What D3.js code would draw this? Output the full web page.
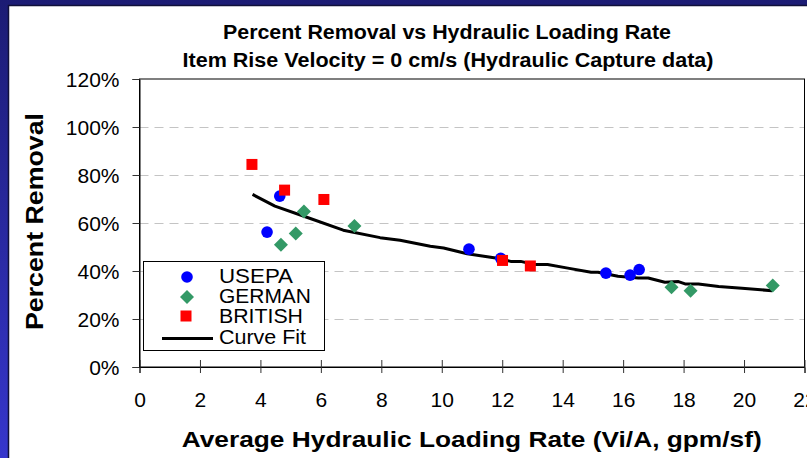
<!DOCTYPE html>
<html><head><meta charset="utf-8">
<script src="https://cdn.jsdelivr.net/npm/d3@7"></script>
<style>html,body{margin:0;padding:0;overflow:hidden;background:#fff}svg{display:block}</style>
</head><body>
<svg id="c" width="807" height="458"></svg>
<script>
// ---- data ----
const usepaX = [4.22, 4.64, 10.9, 11.95, 15.43, 16.23, 16.53];
const usepaY = [56.2, 71.2, 49.1, 45.3, 39.1, 38.3, 40.6];
const germanX = [4.68, 5.17, 5.44, 7.11, 17.6, 18.23, 20.95];
const germanY = [50.9, 55.6, 64.8, 58.7, 33.2, 31.8, 34.0];
const britishX = [3.72, 4.80, 6.10, 12.01, 12.93];
const britishY = [84.4, 73.7, 69.8, 44.4, 42.1];
const fitX = [3.74, 4.48, 5.44, 6.74, 7.96, 8.62, 9.62, 10.06, 10.84, 11.95, 12.28, 12.61, 13.06, 13.5, 14.17, 14.94, 15.17, 15.83, 16.5, 16.83, 17.38, 17.83, 18.05, 18.49, 19.16, 19.93, 20.93];
const fitY = [71.9, 67.0, 62.8, 57.0, 53.9, 52.8, 50.3, 49.6, 47.2, 45.1, 44.0, 44.0, 42.7, 42.7, 41.2, 39.5, 39.5, 37.8, 37.1, 37.1, 35.3, 35.6, 34.6, 34.6, 33.5, 32.8, 31.8];
const xTicks = [0, 2, 4, 6, 8, 10, 12, 14, 16, 18, 20, 22];
const yTicks = [0, 20, 40, 60, 80, 100, 120];
const legendNames = ["USEPA", "GERMAN", "BRITISH", "Curve Fit"];
const titleLines = ["Percent Removal vs Hydraulic Loading Rate", "Item Rise Velocity = 0 cm/s (Hydraulic Capture data)"];
const xTitle = "Average Hydraulic Loading Rate (Vi/A, gpm/sf)";
const yTitle = "Percent Removal";

const svg = d3.select("#c");
const FONT = "'Liberation Sans', Arial, Helvetica, sans-serif";

// ---- background (slide) ----
const defs = svg.append("defs");
const g1 = defs.append("linearGradient").attr("id", "bg").attr("x1", 0).attr("y1", 0).attr("x2", 0).attr("y2", 1);
g1.append("stop").attr("offset", "0%").attr("stop-color", "#1c1c74");
g1.append("stop").attr("offset", "100%").attr("stop-color", "#3636cc");
svg.append("rect").attr("width", 807).attr("height", 458).attr("fill", "url(#bg)");
svg.append("rect").attr("x", 9).attr("y", 6).attr("width", 798).attr("height", 452).attr("fill", "#fff");
svg.append("path").attr("d", "M8.5,458V5.5H807").attr("fill", "none").attr("stroke", "#10103a").attr("stroke-width", 1.5);

// ---- scales ----
const x = d3.scaleLinear().domain([0, 22]).range([139.5, 804.5]);
const y = d3.scaleLinear().domain([0, 120]).range([367, 79]);

// gridlines
svg.append("g").selectAll("line").data(yTicks.filter(d => d > 0 && d < 120)).join("line")
  .attr("x1", x(0)).attr("x2", x(22)).attr("y1", d => Math.round(y(d)) + 0.5).attr("y2", d => Math.round(y(d)) + 0.5)
  .attr("stroke", "#c4c4c4").attr("stroke-width", 1).attr("stroke-dasharray", "9,6");

// plot frame
svg.append("rect").attr("x", x(0)).attr("y", y(120)).attr("width", x(22) - x(0)).attr("height", y(0) - y(120))
  .attr("fill", "none").attr("stroke", "#000").attr("stroke-width", 1);

// axes
const xAxis = svg.append("g").attr("transform", `translate(0,${y(0)})`)
  .call(d3.axisBottom(x).tickValues(xTicks).tickSize(6).tickPadding(19).tickFormat(d3.format("d")));
xAxis.select(".domain").attr("stroke", "#000");
xAxis.selectAll(".tick line").attr("y1", -7).attr("y2", 6).attr("stroke", "#333");
xAxis.selectAll("text").attr("font-family", FONT).attr("font-size", 21).attr("fill", "#000");

const yAxis = svg.append("g").attr("transform", `translate(${x(0)},0)`)
  .call(d3.axisLeft(y).tickValues(yTicks).tickSize(7).tickPadding(13).tickFormat(d => d + "%"));
yAxis.select(".domain").attr("stroke", "#000");
yAxis.selectAll(".tick line").attr("stroke", "#333");
yAxis.selectAll("text").attr("font-family", FONT).attr("font-size", 21).attr("fill", "#000").attr("dy", "0.36em");

// curve fit
const line = d3.line().x(d => x(d[0])).y(d => y(d[1]));
svg.append("path").datum(fitX.map((v, i) => [v, fitY[i]])).attr("d", line)
  .attr("fill", "none").attr("stroke", "#000").attr("stroke-width", 3).attr("stroke-linejoin", "round");

// markers
const BLUE = "#0000ff", GREEN = "#339966", RED = "#ff0000";
const sq = 11, dia = 7;
svg.append("g").selectAll("path").data(germanX.map((v, i) => [v, germanY[i]])).join("path")
  .attr("d", d => `M${x(d[0])},${y(d[1]) - dia}L${x(d[0]) + dia},${y(d[1])}L${x(d[0])},${y(d[1]) + dia}L${x(d[0]) - dia},${y(d[1])}Z`)
  .attr("fill", GREEN);
svg.append("g").selectAll("circle").data(usepaX.map((v, i) => [v, usepaY[i]])).join("circle")
  .attr("cx", d => x(d[0])).attr("cy", d => y(d[1])).attr("r", 5.8).attr("fill", BLUE);
svg.append("g").selectAll("rect").data(britishX.map((v, i) => [v, britishY[i]])).join("rect")
  .attr("x", d => x(d[0]) - sq / 2).attr("y", d => y(d[1]) - sq / 2).attr("width", sq).attr("height", sq).attr("fill", RED);

// legend
const lg = svg.append("g");
lg.append("rect").attr("x", 143.5).attr("y", 261.5).attr("width", 181).attr("height", 89)
  .attr("fill", "#fff").attr("stroke", "#000").attr("stroke-width", 1);
lg.append("circle").attr("cx", 187).attr("cy", 277).attr("r", 5.8).attr("fill", BLUE);
lg.append("path").attr("d", `M187,${297 - dia}L${187 + dia},297L187,${297 + dia}L${187 - dia},297Z`).attr("fill", GREEN);
lg.append("rect").attr("x", 186 - sq / 2).attr("y", 316 - sq / 2).attr("width", sq).attr("height", sq).attr("fill", RED);
lg.append("line").attr("x1", 162).attr("x2", 213).attr("y1", 338.5).attr("y2", 338.5).attr("stroke", "#000").attr("stroke-width", 3);
const lgBase = [283, 303, 323, 343.5];
const lgLen = [74, 92, 84, 87];
lg.selectAll("text").data(legendNames).join("text")
  .attr("x", 219).attr("y", (d, i) => lgBase[i]).text(d => d)
  .attr("textLength", (d, i) => lgLen[i]).attr("lengthAdjust", "spacingAndGlyphs")
  .attr("font-family", FONT).attr("font-size", 20).attr("fill", "#000");

// titles
svg.append("text").attr("x", 223).attr("y", 39.3).text(titleLines[0])
  .attr("font-family", FONT).attr("font-weight", "bold").attr("font-size", 19.5)
  .attr("textLength", 448).attr("lengthAdjust", "spacingAndGlyphs");
svg.append("text").attr("x", 182.5).attr("y", 66.7).text(titleLines[1])
  .attr("font-family", FONT).attr("font-weight", "bold").attr("font-size", 20)
  .attr("textLength", 531).attr("lengthAdjust", "spacingAndGlyphs");
svg.append("text").attr("x", 181.7).attr("y", 446.7).text(xTitle)
  .attr("font-family", FONT).attr("font-weight", "bold").attr("font-size", 21.5)
  .attr("textLength", 580).attr("lengthAdjust", "spacingAndGlyphs");
svg.append("text").attr("transform", "translate(43.3,330) rotate(-90)").text(yTitle)
  .attr("font-family", FONT).attr("font-weight", "bold").attr("font-size", 23)
  .attr("textLength", 217).attr("lengthAdjust", "spacingAndGlyphs");
</script>
</body></html>
